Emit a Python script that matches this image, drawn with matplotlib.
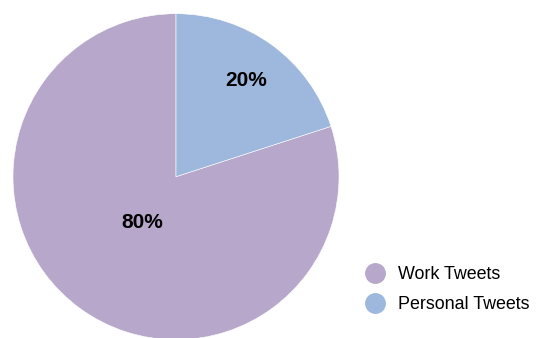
import numpy as np
import matplotlib.pyplot as plt
from matplotlib.lines import Line2D

labels = ["Work Tweets", "Personal Tweets"]
shares = [80, 20]
colors = ["#B7A7CB", "#9DB8DC"]
# how far from the centre each percentage sits, as a fraction of the radius
label_dist = [0.35, 0.73]

plt.rcParams['font.family'] = ['Liberation Sans', 'DejaVu Sans']

W, H = 536, 338
fig = plt.figure(figsize=(W / 100, H / 100), dpi=100)

cx, cy, r = 176, 338 - 176.7, 163
ax = fig.add_axes([(cx - r) / W, (cy - r) / H, 2 * r / W, 2 * r / H])

wedges, texts, autotexts = ax.pie(
    shares, colors=colors, startangle=90, counterclock=True,
    autopct='%d%%', wedgeprops=dict(edgecolor='white', linewidth=0.4),
    textprops=dict(fontsize=15, fontweight='bold', color='black'))

for w, t, d in zip(wedges, autotexts, label_dist):
    mid = np.deg2rad((w.theta1 + w.theta2) / 2)
    t.set_position((d * np.cos(mid), d * np.sin(mid)))

ax.set_xlim(-1, 1)
ax.set_ylim(-1, 1)
ax.set_aspect('auto')
ax.axis('off')

handles = [Line2D([], [], marker='o', linestyle='none', markersize=14,
                  markerfacecolor=c, markeredgecolor=c) for c in colors]
fig.legend(handles, labels, loc='upper left', bbox_to_anchor=(355 / W, 1 - 257 / H),
           frameon=False, fontsize=12.9, handletextpad=0.7, labelspacing=0.72,
           borderpad=0, handlelength=1.2)

fig.savefig("out.png", dpi=100)
